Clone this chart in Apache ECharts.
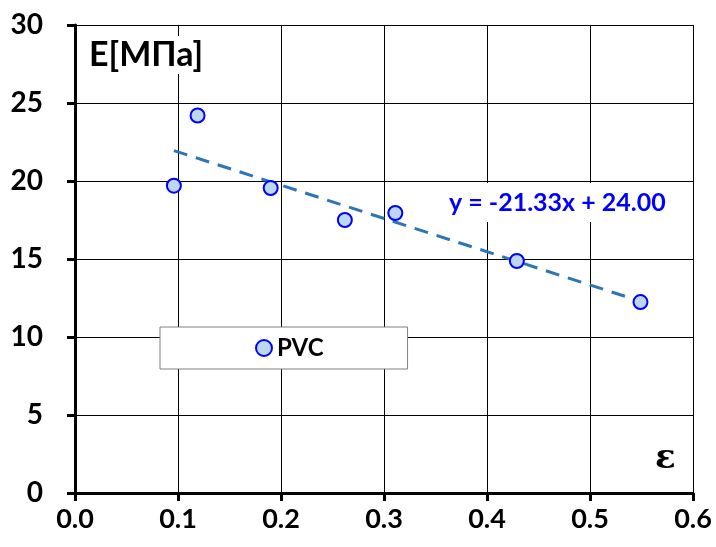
<!DOCTYPE html>
<html>
<head>
<meta charset="utf-8">
<script src="https://cdn.jsdelivr.net/npm/echarts@6/dist/echarts.min.js"></script>
<style>
  html, body { margin: 0; padding: 0; background: #fff; }
  #chart { width: 716px; height: 547px; }
</style>
</head>
<body>
<div id="chart"></div>
<script>
// datos
const strainValues = [0.096, 0.119, 0.190, 0.262, 0.311, 0.429, 0.549];
const modulusValues = [19.7, 24.2, 19.55, 17.5, 17.95, 14.87, 12.24];
// linea de tendencia (extremos leidos)
const trendX = [0.096, 0.549];
const trendY = [21.95, 12.29];
const xTicks = ['0.0', '0.1', '0.2', '0.3', '0.4', '0.5', '0.6'];
const yTicks = ['0', '5', '10', '15', '20', '25', '30'];

const myChart = echarts.init(document.getElementById('chart'));

const fontFam = 'Lato, "Open Sans", sans-serif';

let option = {
    backgroundColor: '#ffffff',
    animation: false,
    grid: {
        left: 75,
        right: 23,
        top: 25,
        bottom: 54
    },
    xAxis: {
        type: 'value',
        min: 0,
        max: 0.6,
        interval: 0.1,
        axisLine: { show: true, onZero: false, lineStyle: { color: '#000', width: 3 } },
        axisTick: { show: true, length: 8, lineStyle: { color: '#000', width: 3 } },
        axisLabel: {
            margin: 13,
            fontSize: 27,
            fontWeight: 'bold',
            fontFamily: fontFam,
            color: '#000',
            formatter: function (value) {
                return xTicks[Math.round(value * 10)];
            }
        },
        splitLine: { show: true, lineStyle: { color: '#000', width: 1 } }
    },
    yAxis: {
        type: 'value',
        min: 0,
        max: 30,
        interval: 5,
        axisLine: { show: true, onZero: false, lineStyle: { color: '#000', width: 3 } },
        axisTick: { show: true, length: 8, lineStyle: { color: '#000', width: 3 } },
        axisLabel: {
            margin: 32,
            fontSize: 28,
            fontWeight: 'bold',
            fontFamily: fontFam,
            color: '#000',
            formatter: function (value) {
                return yTicks[Math.round(value / 5)];
            }
        },
        splitLine: { show: true, lineStyle: { color: '#000', width: 1 } }
    },
    legend: {
        data: ['PVC'],
        left: 160,
        top: 327,
        padding: [9, 84, 9, 95],
        itemWidth: 16,
        itemHeight: 16,
        itemGap: 10,
        backgroundColor: '#ffffff',
        borderColor: '#808080',
        borderWidth: 1,
        borderRadius: 0,
        textStyle: {
            fontSize: 24,
            fontWeight: 'bold',
            fontFamily: fontFam,
            color: '#000'
        }
    },
    graphic: [
        {
            type: 'text',
            left: 85,
            top: 36,
            z: 10,
            style: {
                text: 'Е[МПа]',
                fontSize: 34,
                fontWeight: 'bold',
                fontFamily: fontFam,
                fill: '#000',
                backgroundColor: '#fff',
                padding: [2, 4]
            }
        },
        {
            type: 'text',
            left: 444,
            top: 183,
            z: 10,
            style: {
                text: 'y = -21.33x + 24.00',
                fontSize: 25,
                fontWeight: 'bold',
                fontFamily: fontFam,
                fill: '#0000ff',
                backgroundColor: '#fff',
                padding: [7, 5]
            }
        },
        {
            type: 'text',
            left: 653,
            top: 442,
            z: 10,
            style: {
                text: 'ε',
                fontSize: 34,
                fontWeight: 'bold',
                fontFamily: '"DejaVu Serif", "Liberation Serif", serif',
                fill: '#000',
                backgroundColor: '#fff',
                padding: [0, 2]
            }
        }
    ],
    series: [
        {
            name: 'Tendencia',
            type: 'line',
            data: trendX.map((x, i) => [x, trendY[i]]),
            symbol: 'none',
            lineStyle: {
                color: '#2E75B6',
                width: 3,
                type: [14, 9]
            },
            z: 2
        },
        {
            name: 'PVC',
            type: 'scatter',
            data: strainValues.map((x, i) => [x, modulusValues[i]]),
            symbol: 'circle',
            symbolSize: 14,
            itemStyle: {
                color: '#BDD7EE',
                borderColor: '#0000ff',
                borderWidth: 2,
                opacity: 1
            },
            z: 3
        }
    ]
};

myChart.setOption(option);
</script>
</body>
</html>
